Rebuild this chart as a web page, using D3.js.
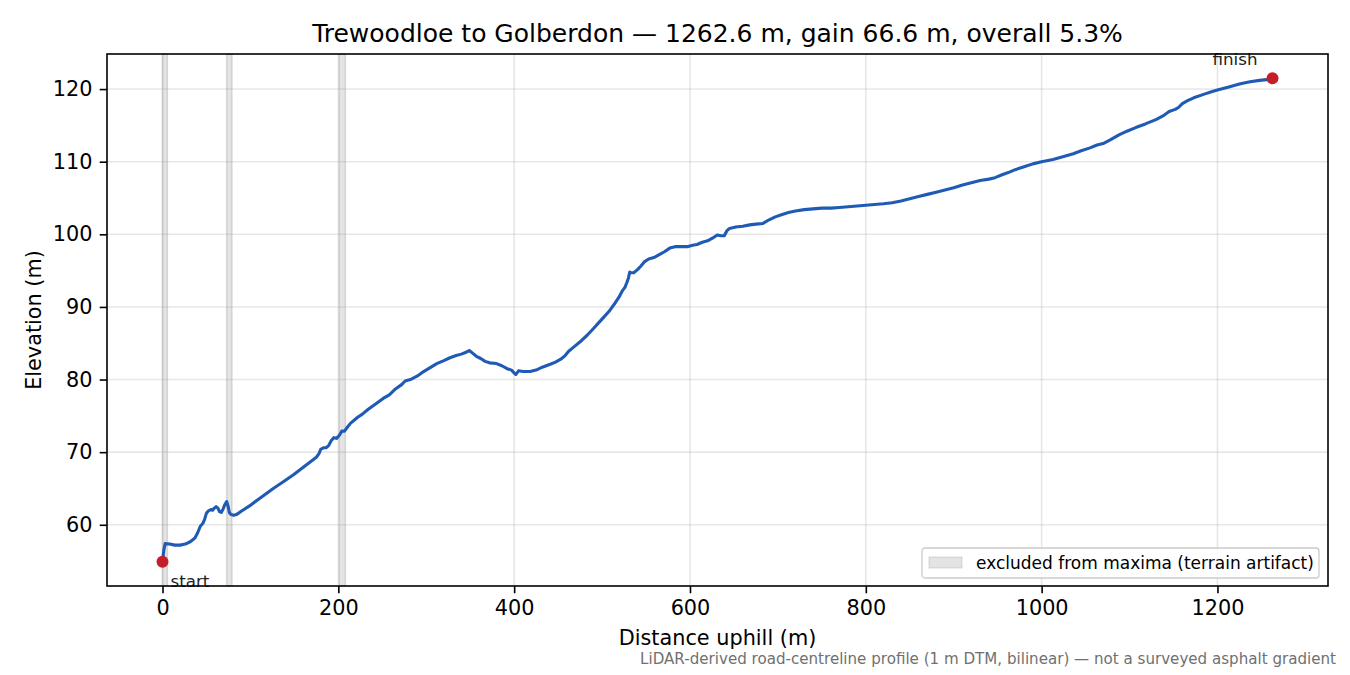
<!DOCTYPE html>
<meta charset="utf-8">
<script src="https://d3js.org/d3.v7.min.js"></script>
<style>
  body { margin: 0; background: #fff; }
  text { font-family: "DejaVu Sans", sans-serif; }
</style>
<div id="chart"></div>
<script>

// distance along the road (m) and elevation (m)
const distance = [0, 1.5, 3, 8, 14, 20, 26, 32, 37, 40, 43, 46, 48, 50, 52, 55, 57, 59, 61, 63,
  65, 67, 69, 71, 73, 74.5, 76, 78, 81, 84, 90, 99, 110, 126, 137, 149, 162, 175, 178, 180,
  183, 186, 189, 192, 195, 198, 201, 204, 207, 210, 214, 218, 222, 227, 234, 242, 251, 258, 265, 272,
  276, 282, 290, 297, 304, 312, 320, 327, 334, 340, 346, 349, 352, 357, 362, 367, 372, 380, 386, 392,
  397, 400, 402, 405, 410, 418, 425, 432, 441, 447, 453, 458, 462, 468, 475, 483, 490, 496, 502, 508,
  514, 519, 523, 526, 528, 530, 531.5, 533, 536, 540, 544, 548, 553, 559, 565, 571, 577, 583, 590, 597,
  603, 608, 614, 620, 626, 631, 635, 639, 642, 645, 652, 660, 668, 675, 683, 690, 697, 704, 712, 720,
  730, 740, 750, 760, 770, 780, 790, 800, 810, 820, 830, 840, 850, 860, 870, 880, 890, 900, 910, 920,
  930, 940, 947, 955, 962, 970, 980, 990, 1000, 1013, 1025, 1036, 1045, 1055, 1063, 1070, 1078, 1088, 1097, 1107,
  1118, 1130, 1138, 1145, 1152, 1156, 1160, 1166, 1173, 1185, 1195, 1201, 1213, 1225, 1237, 1248, 1256, 1262.6];

const elevation = [54.9, 56.5, 57.4, 57.35, 57.2, 57.2, 57.35, 57.7, 58.2, 58.9, 59.8, 60.2, 60.8, 61.6, 61.9, 62.1, 62.0, 62.3, 62.5, 62.3,
  61.8, 61.7, 62.2, 62.8, 63.2, 62.6, 61.7, 61.4, 61.3, 61.4, 61.9, 62.6, 63.6, 65.0, 65.9, 66.9, 68.1, 69.3, 69.8, 70.4,
  70.6, 70.6, 70.9, 71.6, 72.0, 71.9, 72.3, 72.9, 72.9, 73.4, 74.0, 74.4, 74.8, 75.2, 75.9, 76.6, 77.4, 77.9, 78.7, 79.3,
  79.8, 80.0, 80.5, 81.1, 81.6, 82.2, 82.6, 83.0, 83.3, 83.5, 83.8, 84.0, 83.7, 83.2, 82.9, 82.5, 82.3, 82.2, 81.9, 81.5,
  81.3, 80.9, 80.7, 81.2, 81.1, 81.1, 81.3, 81.7, 82.1, 82.4, 82.8, 83.3, 83.9, 84.5, 85.2, 86.1, 87.0, 87.8, 88.6, 89.4,
  90.4, 91.3, 92.2, 92.7, 93.3, 94.0, 94.8, 94.7, 94.7, 95.1, 95.6, 96.2, 96.6, 96.8, 97.2, 97.6, 98.1, 98.3, 98.3, 98.3,
  98.5, 98.6, 98.9, 99.1, 99.5, 99.9, 99.8, 99.8, 100.5, 100.8, 101.0, 101.1, 101.3, 101.4, 101.5, 102.0, 102.4, 102.7, 103.0, 103.2,
  103.4, 103.5, 103.6, 103.6, 103.7, 103.8, 103.9, 104.0, 104.1, 104.2, 104.35, 104.6, 104.9, 105.2, 105.5, 105.8, 106.1, 106.4, 106.8, 107.1,
  107.4, 107.6, 107.8, 108.2, 108.5, 108.9, 109.3, 109.7, 110.0, 110.3, 110.7, 111.1, 111.5, 111.9, 112.3, 112.5, 113.0, 113.7, 114.2, 114.7,
  115.2, 115.8, 116.3, 116.9, 117.2, 117.5, 118.0, 118.4, 118.8, 119.3, 119.7, 119.9, 120.3, 120.7, 121.0, 121.2, 121.3, 121.5];

// spans left out when picking maxima
const excludedSpans = [[0, 5.5], [73, 79], [201, 208]];

const xTicks = [0, 200, 400, 600, 800, 1000, 1200];
const yTicks = [60, 70, 80, 90, 100, 110, 120];

const titleText = "Trewoodloe to Golberdon \u2014 1262.6 m, gain 66.6 m, overall 5.3%";
const legendText = "excluded from maxima (terrain artifact)";
const noteText = "LiDAR-derived road-centreline profile (1 m DTM, bilinear) \u2014 not a surveyed asphalt gradient";

const profile = distance.map((d, i) => ({d: d, e: elevation[i]}));

const W = 1350, H = 675;
const margin = {top: 54, right: 22, bottom: 89, left: 107};
const width = W - margin.left - margin.right,
      height = H - margin.top - margin.bottom;

const svg = d3.select("#chart").append("svg")
    .attr("width", W)
    .attr("height", H);

const g = svg.append("g")
    .attr("transform", `translate(${margin.left},${margin.top})`);

// matplotlib-style 5% padding
const pad = (lo, hi) => { const r = hi - lo; return [lo - 0.05 * r, hi + 0.05 * r]; };

const x = d3.scaleLinear()
    .domain(pad(d3.min(distance), d3.max(distance)))
    .range([0, width]);
const y = d3.scaleLinear()
    .domain(pad(d3.min(elevation), d3.max(elevation)))
    .range([height, 0]);

// grid
g.append("g").selectAll("line")
  .data(xTicks)
  .join("line")
    .attr("x1", d => x(d)).attr("x2", d => x(d))
    .attr("y1", 0).attr("y2", height)
    .attr("stroke", "#b0b0b0").attr("stroke-opacity", 0.3).attr("stroke-width", 1.6);
g.append("g").selectAll("line")
  .data(yTicks)
  .join("line")
    .attr("x1", 0).attr("x2", width)
    .attr("y1", d => y(d)).attr("y2", d => y(d))
    .attr("stroke", "#b0b0b0").attr("stroke-opacity", 0.3).attr("stroke-width", 1.6);

// excluded spans
g.append("g").selectAll("rect")
  .data(excludedSpans)
  .join("rect")
    .attr("x", d => x(d[0]))
    .attr("width", d => x(d[1]) - x(d[0]))
    .attr("y", 0)
    .attr("height", height)
    .attr("fill", "#9e9e9e").attr("fill-opacity", 0.28)
    .attr("stroke", "#9e9e9e").attr("stroke-opacity", 0.35).attr("stroke-width", 1.5);

// profile line
const line = d3.line()
    .x(d => x(d.d))
    .y(d => y(d.e));

g.append("path")
    .datum(profile)
    .attr("fill", "none")
    .attr("stroke", "#1f5bb5")
    .attr("stroke-width", 3.1)
    .attr("stroke-linejoin", "round")
    .attr("stroke-linecap", "square")
    .attr("d", line);

// start / finish markers
const ends = [profile[0], profile[profile.length - 1]];
g.append("g").selectAll("circle")
  .data(ends)
  .join("circle")
    .attr("cx", d => x(d.d))
    .attr("cy", d => y(d.e))
    .attr("r", 6)
    .attr("fill", "#c41e2a");

g.append("text")
    .attr("x", x(ends[0].d) + 8)
    .attr("y", y(ends[0].e) + 25)
    .attr("font-size", "16.7px")
    .attr("fill", "#222")
    .text("start");

g.append("text")
    .attr("x", x(ends[1].d) - 15)
    .attr("y", y(ends[1].e) - 13)
    .attr("text-anchor", "end")
    .attr("font-size", "16.7px")
    .attr("fill", "#222")
    .text("finish");

// axes
const xAxis = g.append("g")
    .attr("transform", `translate(0,${height})`)
    .call(d3.axisBottom(x).tickValues(xTicks).tickFormat(d3.format("d")).tickSize(7.3).tickPadding(7.3));
const yAxis = g.append("g")
    .call(d3.axisLeft(y).tickValues(yTicks).tickFormat(d3.format("d")).tickSize(7.3).tickPadding(7.3));

[xAxis, yAxis].forEach(a => {
  a.select(".domain").remove();
  a.selectAll(".tick line").attr("stroke", "#000").attr("stroke-width", 1.6);
  a.selectAll(".tick text").attr("font-size", "20.8px").attr("fill", "#000")
    .attr("font-family", "DejaVu Sans, sans-serif");
});

// frame
g.append("rect")
    .attr("width", width)
    .attr("height", height)
    .attr("fill", "none")
    .attr("stroke", "#000")
    .attr("stroke-width", 1.6);

// legend
const lg = g.append("g")
    .attr("transform", `translate(${922 - margin.left},${548 - margin.top})`);
lg.append("rect")
    .attr("width", 397).attr("height", 30).attr("rx", 3)
    .attr("fill", "#fff").attr("fill-opacity", 0.8)
    .attr("stroke", "#cccccc").attr("stroke-width", 1.3);
lg.append("rect")
    .attr("x", 7).attr("y", 9).attr("width", 33).attr("height", 11)
    .attr("fill", "#9e9e9e").attr("fill-opacity", 0.28)
    .attr("stroke", "#9e9e9e").attr("stroke-opacity", 0.35);
lg.append("text")
    .attr("x", 54).attr("y", 20.5)
    .attr("font-size", "17px")
    .attr("fill", "#000")
    .text(legendText);

// titles and labels
svg.append("text")
    .attr("x", margin.left + width / 2)
    .attr("y", 42)
    .attr("text-anchor", "middle")
    .attr("font-size", "25px")
    .attr("fill", "#000")
    .text(titleText);

svg.append("text")
    .attr("x", margin.left + width / 2)
    .attr("y", 645)
    .attr("text-anchor", "middle")
    .attr("font-size", "20.8px")
    .attr("fill", "#000")
    .text("Distance uphill (m)");

svg.append("text")
    .attr("transform", `translate(41,${margin.top + height / 2}) rotate(-90)`)
    .attr("text-anchor", "middle")
    .attr("font-size", "20.8px")
    .attr("fill", "#000")
    .text("Elevation (m)");

svg.append("text")
    .attr("x", 1336)
    .attr("y", 664)
    .attr("text-anchor", "end")
    .attr("font-size", "15.1px")
    .attr("fill", "#707070")
    .text(noteText);

</script>
